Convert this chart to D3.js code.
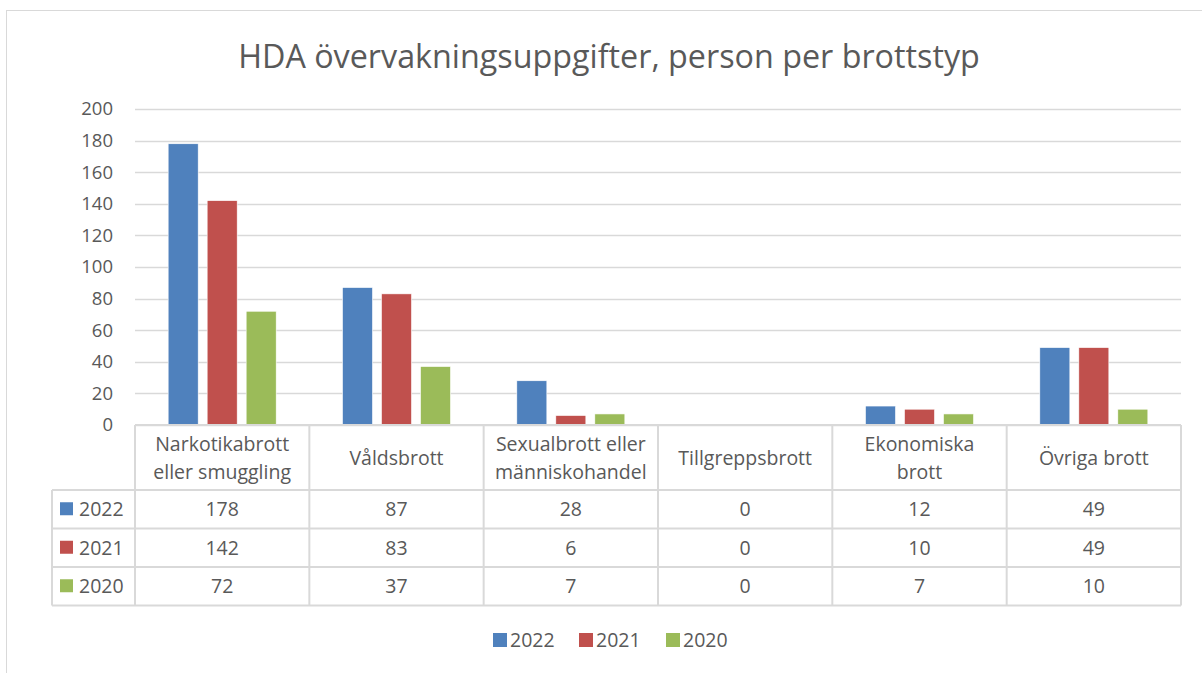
<!DOCTYPE html>
<html>
<head>
<meta charset="utf-8">
<script src="https://cdn.jsdelivr.net/npm/d3@7"></script>
<style>
  body { margin: 0; background: #fff; }
  text { font-family: "Open Sans", sans-serif; fill: #595959; }
</style>
</head>
<body>
<script>
// chart values
var categories = [["Narkotikabrott", "eller smuggling"], ["Våldsbrott"], ["Sexualbrott eller", "människohandel"],
                  ["Tillgreppsbrott"], ["Ekonomiska", "brott"], ["Övriga brott"]];
var years = ["2022", "2021", "2020"];
var v2022 = [178, 87, 28, 0, 12, 49];
var v2021 = [142, 83, 6, 0, 10, 49];
var v2020 = [72, 37, 7, 0, 7, 10];
var yTicks = [0, 20, 40, 60, 80, 100, 120, 140, 160, 180, 200];
var colors = ["#4F81BD", "#C0504D", "#9BBB59"];

var series = [v2022, v2021, v2020];
var w = 1202, h = 673;
var plotLeft = 135, plotRight = 1181, plotTop = 109, plotBottom = 425;
var legendLeft = 52;
var headerH = 65, rowH = 38.5;
var gridCol = "#d9d9d9";
var fs = "19.5px";

var svg = d3.select("body").append("svg")
  .attr("width", w)
  .attr("height", h);

// outer frame
svg.append("rect")
  .attr("x", 6.5).attr("y", 10.5)
  .attr("width", 1200).attr("height", 670)
  .attr("fill", "none").attr("stroke", gridCol);

// title, fitted to the reference width
var title = svg.append("text")
  .attr("x", 609).attr("y", 68)
  .attr("text-anchor", "middle")
  .attr("font-size", "30px")
  .text("HDA övervakningsuppgifter, person per brottstyp");
var tw = title.node().getComputedTextLength();
title.attr("font-size", (30 * 742 / tw) + "px");

var xScale = d3.scaleBand()
  .domain(d3.range(categories.length))
  .range([plotLeft, plotRight]);

var inner = d3.scaleBand()
  .domain(d3.range(years.length))
  .range([0, xScale.bandwidth()])
  .paddingInner(0.23)
  .paddingOuter(0.85);

var yScale = d3.scaleLinear()
  .domain([0, 200])
  .range([plotBottom, plotTop]);

// gridlines
svg.selectAll("line.grid")
  .data(yTicks)
  .enter()
  .append("line")
  .attr("class", "grid")
  .attr("x1", plotLeft).attr("x2", plotRight)
  .attr("y1", function(d) { return Math.round(yScale(d)) + 0.5; })
  .attr("y2", function(d) { return Math.round(yScale(d)) + 0.5; })
  .attr("stroke", gridCol)
  .attr("stroke-width", 1.3);

// y labels
svg.selectAll("text.ytick")
  .data(yTicks)
  .enter()
  .append("text")
  .attr("class", "ytick")
  .attr("x", 113)
  .attr("y", function(d) { return yScale(d); })
  .attr("dy", "0.35em")
  .attr("text-anchor", "end")
  .attr("font-size", "18.5px")
  .text(function(d) { return d; });

// bars
series.forEach(function(vals, s) {
  svg.selectAll("rect.s" + s)
    .data(vals)
    .enter()
    .append("rect")
    .attr("class", "s" + s)
    .attr("x", function(d, i) { return xScale(i) + inner(s); })
    .attr("y", function(d) { return yScale(d); })
    .attr("width", inner.bandwidth())
    .attr("height", function(d) { return plotBottom - yScale(d); })
    .attr("fill", colors[s])
    .attr("stroke", "#fff")
    .attr("stroke-width", 0.6);
});

// data table
var tableBottom = plotBottom + headerH + rowH * 3;
var tg = svg.append("g");
var colEdges = d3.range(categories.length + 1).map(function(i) {
  return i < categories.length ? xScale(i) : plotRight;
});
// vertical lines
tg.selectAll("line.v")
  .data(colEdges)
  .enter()
  .append("line")
  .attr("x1", function(d) { return d; })
  .attr("x2", function(d) { return d; })
  .attr("y1", plotBottom)
  .attr("y2", tableBottom)
  .attr("stroke", gridCol).attr("stroke-width", 2);
tg.append("line")
  .attr("x1", legendLeft).attr("x2", legendLeft)
  .attr("y1", plotBottom + headerH).attr("y2", tableBottom)
  .attr("stroke", gridCol).attr("stroke-width", 2);
// horizontal lines
tg.append("line")
  .attr("x1", plotLeft).attr("x2", plotRight)
  .attr("y1", plotBottom).attr("y2", plotBottom)
  .attr("stroke", gridCol).attr("stroke-width", 2);
tg.selectAll("line.h")
  .data(d3.range(4))
  .enter()
  .append("line")
  .attr("x1", legendLeft).attr("x2", plotRight)
  .attr("y1", function(d) { return plotBottom + headerH + d * rowH; })
  .attr("y2", function(d) { return plotBottom + headerH + d * rowH; })
  .attr("stroke", gridCol).attr("stroke-width", 2);

// header labels
categories.forEach(function(lines, i) {
  var cx = xScale(i) + xScale.bandwidth() / 2;
  var cy = plotBottom + headerH / 2 + 1;
  var t = tg.append("text")
    .attr("text-anchor", "middle")
    .attr("font-size", fs);
  lines.forEach(function(l, j) {
    t.append("tspan")
      .attr("x", cx)
      .attr("y", cy + (j - (lines.length - 1) / 2) * 28)
      .attr("dy", "0.35em")
      .text(l);
  });
});

// rows
series.forEach(function(vals, s) {
  var cy = plotBottom + headerH + s * rowH + rowH / 2;
  tg.append("rect")
    .attr("x", 60).attr("y", cy - 7)
    .attr("width", 13).attr("height", 13)
    .attr("fill", colors[s]);
  tg.append("text")
    .attr("x", 79).attr("y", cy)
    .attr("dy", "0.35em")
    .attr("font-size", fs)
    .text(years[s]);
  tg.selectAll("text.r" + s)
    .data(vals)
    .enter()
    .append("text")
    .attr("class", "r" + s)
    .attr("x", function(d, i) { return xScale(i) + xScale.bandwidth() / 2; })
    .attr("y", cy)
    .attr("dy", "0.35em")
    .attr("text-anchor", "middle")
    .attr("font-size", fs)
    .text(function(d) { return d; });
});

// legend
var legendX = [493, 579, 666];
years.forEach(function(y, s) {
  svg.append("rect")
    .attr("x", legendX[s]).attr("y", 633)
    .attr("width", 14).attr("height", 14)
    .attr("fill", colors[s]);
  svg.append("text")
    .attr("x", legendX[s] + 17).attr("y", 640)
    .attr("dy", "0.35em")
    .attr("font-size", fs)
    .text(y);
});
</script>
</body>
</html>
